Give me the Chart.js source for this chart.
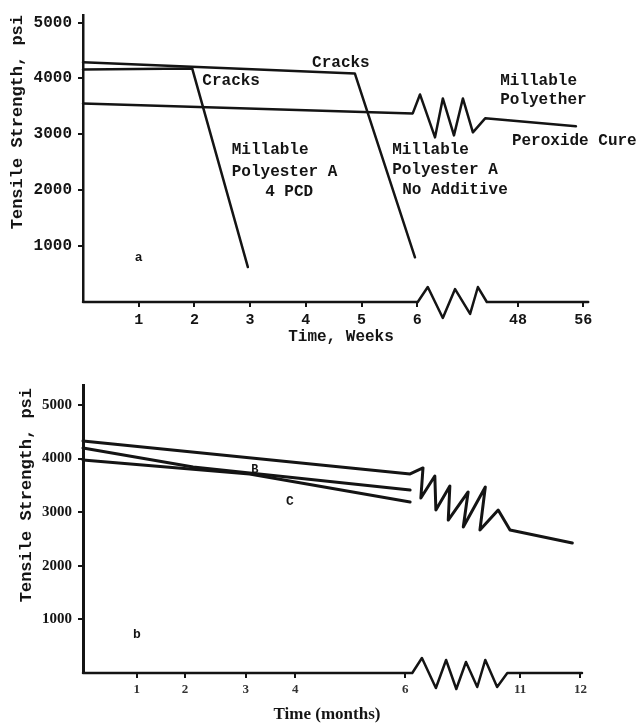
<!doctype html>
<html>
<head>
<meta charset="utf-8">
<title>Tensile Strength vs Time</title>
<script src="https://cdn.jsdelivr.net/npm/chart.js"></script>
<style>
  html, body { margin: 0; padding: 0; background: #fff; }
  #wrap { position: relative; width: 640px; height: 724px; overflow: hidden; }
  canvas { position: absolute; left: 0; }
  #top { top: 0; }
  #bottom { top: 360px; }
</style>
</head>
<body>
<div id="wrap">
  <canvas id="top" width="640" height="355"></canvas>
  <canvas id="bottom" width="640" height="364"></canvas>
</div>
<script>
// x values are positions along the drawn axis (the axis is broken after 6)
// panel a: weeks
const weekTickPos = [1, 2, 3, 4, 5, 6, 7.81, 8.98];
const weekTickLabels = ['1', '2', '3', '4', '5', '6', '48', '56'];
const strengthTicks = [1000, 2000, 3000, 4000, 5000];

const noAdditiveX = [0, 4.88, 5.96];
const noAdditiveY = [4290, 4090, 800];
const pcdX = [0, 1.96, 2.96];
const pcdY = [4160, 4180, 625];
const polyetherX = [0, 5.92, 6.05, 6.32, 6.46, 6.66, 6.82, 7.0, 7.22, 8.85];
const polyetherY = [3550, 3375, 3714, 2946, 3643, 2982, 3643, 3036, 3286, 3143];
const axisAX = [0, 6.01, 6.19, 6.46, 6.68, 6.95, 7.09, 7.25, 9.07];
const axisAY = [0, 0, 268, -286, 232, -214, 268, 0, 0];

// panel b: months
const monthTickPos = [1, 1.9, 3.03, 3.95, 6, 8.14, 9.26];
const monthTickLabels = ['1', '2', '3', '4', '6', '11', '12'];

const lineAX = [0, 6.09, 6.33, 6.29, 6.55, 6.57, 6.83, 6.80, 7.17, 7.08, 7.49, 7.39, 7.73, 7.95, 9.11];
const lineAY = [4328, 3713, 3825, 3265, 3675, 3041, 3489, 2854, 3377, 2724, 3470, 2668, 3041, 2668, 2425];
const lineBX = [0, 2.05, 6.09];
const lineBY = [4198, 3843, 3414];
const lineCX = [0, 3.1, 6.09];
const lineCY = [3974, 3713, 3190];
const axisBX = [0, 6.13, 6.31, 6.57, 6.76, 6.95, 7.13, 7.34, 7.49, 7.71, 7.90, 9.29];
const axisBY = [0, 0, 280, -280, 243, -299, 205, -261, 243, -261, 0, 0];

const BLACK = '#141414';
const MONO = '"Liberation Mono", "DejaVu Sans Mono", monospace';
const SERIF = '"Liberation Serif", "DejaVu Serif", serif';

const notesA = [
  { text: 'Cracks', x: 4.63, y: 4286, align: 'center' },
  { text: 'Cracks', x: 2.66, y: 3964, align: 'center' },
  { text: 'Millable', x: 2.67, y: 2714 },
  { text: 'Polyester A', x: 2.67, y: 2321 },
  { text: '4 PCD', x: 3.27, y: 1964 },
  { text: 'Millable', x: 5.55, y: 2714 },
  { text: 'Polyester A', x: 5.55, y: 2357 },
  { text: 'No Additive', x: 5.73, y: 2000 },
  { text: 'Millable', x: 7.49, y: 3964 },
  { text: 'Polyether', x: 7.49, y: 3607 },
  { text: 'Peroxide Cure', x: 7.70, y: 2875 },
  { text: 'a', x: 0.93, y: 786, font: 'bold 13px ' + MONO }
];
const notesB = [
  { text: 'B', x: 3.2, y: 3787, font: 'bold 12px ' + MONO, align: 'center' },
  { text: 'C', x: 3.85, y: 3190, font: 'bold 13px ' + MONO, align: 'center' },
  { text: 'b', x: 0.93, y: 709, font: 'bold 13px ' + MONO }
];

function pts(xs, ys) {
  return xs.map((x, i) => ({ x, y: ys[i] }));
}

function lineSet(xs, ys, w) {
  return {
    data: pts(xs, ys),
    borderColor: BLACK,
    borderWidth: w,
    pointRadius: 0,
    tension: 0,
    clip: false,
    borderJoinStyle: 'round',
    borderCapStyle: 'round'
  };
}

const notesPlugin = {
  id: 'notes',
  afterDatasetsDraw(chart, args, opts) {
    const { ctx } = chart;
    const sx = chart.scales.x, sy = chart.scales.y;
    ctx.save();
    ctx.fillStyle = BLACK;
    ctx.textBaseline = 'middle';
    for (const n of opts.items || []) {
      ctx.font = n.font || opts.font;
      ctx.textAlign = n.align || 'left';
      ctx.fillText(n.text, sx.getPixelForValue(n.x), sy.getPixelForValue(n.y));
    }
    const xt = opts.xTitle;
    ctx.font = xt.font;
    ctx.textAlign = 'center';
    ctx.fillText(xt.text, xt.cx, xt.cy);
    const yt = opts.yTitle;
    ctx.translate(yt.cx, yt.top);
    ctx.rotate(-Math.PI / 2);
    ctx.font = yt.font;
    ctx.textAlign = 'right';
    ctx.fillText(yt.text, 0, 0);
    ctx.restore();
  }
};

function makeChart(id, cfg) {
  return new Chart(document.getElementById(id), {
    type: 'line',
    data: { datasets: cfg.datasets },
    options: {
      responsive: false,
      animation: false,
      layout: { padding: { top: cfg.padTop, left: 0, right: 0, bottom: 0 } },
      plugins: {
        legend: { display: false },
        tooltip: { enabled: false },
        notes: cfg.notes
      },
      scales: {
        x: {
          type: 'linear',
          min: 0,
          max: cfg.xMax,
          border: { display: false },
          grid: { drawOnChartArea: false, drawTicks: true, tickLength: 5, color: BLACK, lineWidth: 2 },
          afterBuildTicks: (axis) => { axis.ticks = cfg.xTickPos.map(v => ({ value: v })); },
          afterFit: (axis) => { axis.height = cfg.xAxisHeight; },
          ticks: {
            autoSkip: false,
            maxRotation: 0,
            padding: 4,
            color: cfg.xTickColor,
            font: cfg.xTickFont,
            callback: (v, i) => cfg.xTickLabels[i]
          }
        },
        y: {
          type: 'linear',
          min: 0,
          max: cfg.yMax,
          border: { display: true, color: BLACK, width: cfg.axisWidth },
          grid: { drawOnChartArea: false, drawTicks: true, tickLength: 5, color: BLACK, lineWidth: 2 },
          afterBuildTicks: (axis) => { axis.ticks = strengthTicks.map(v => ({ value: v })); },
          afterFit: (axis) => { axis.width = 83; },
          ticks: {
            padding: 6,
            color: BLACK,
            font: cfg.yTickFont,
            callback: (v) => String(v)
          }
        }
      }
    },
    plugins: [notesPlugin]
  });
}

makeChart('top', {
  padTop: 15,
  xMax: 10,
  yMax: 5125,
  xAxisHeight: 53,
  axisWidth: 2.5,
  xTickPos: weekTickPos,
  xTickLabels: weekTickLabels,
  xTickColor: BLACK,
  xTickFont: { family: MONO, size: 15, weight: 'bold' },
  yTickFont: { family: MONO, size: 16, weight: 'bold' },
  datasets: [
    lineSet(axisAX, axisAY, 2.5),
    lineSet(noAdditiveX, noAdditiveY, 2.5),
    lineSet(pcdX, pcdY, 2.5),
    lineSet(polyetherX, polyetherY, 2.5)
  ],
  notes: {
    font: 'bold 16px ' + MONO,
    items: notesA,
    xTitle: { text: 'Time, Weeks', cx: 341, cy: 337, font: 'bold 16px ' + MONO },
    yTitle: { text: 'Tensile Strength, psi', cx: 18, top: 15, font: 'bold 17px ' + MONO }
  }
});

makeChart('bottom', {
  padTop: 25,
  xMax: 10.37,
  yMax: 5373,
  xAxisHeight: 51,
  axisWidth: 3,
  xTickPos: monthTickPos,
  xTickLabels: monthTickLabels,
  xTickColor: '#333',
  xTickFont: { family: SERIF, size: 13, weight: 'bold' },
  yTickFont: { family: SERIF, size: 15, weight: 'bold' },
  datasets: [
    lineSet(axisBX, axisBY, 2.5),
    lineSet(lineAX, lineAY, 3),
    lineSet(lineBX, lineBY, 3),
    lineSet(lineCX, lineCY, 3)
  ],
  notes: {
    font: 'bold 16px ' + MONO,
    items: notesB,
    xTitle: { text: 'Time (months)', cx: 327, cy: 355, font: 'bold 17px ' + SERIF },
    yTitle: { text: 'Tensile Strength, psi', cx: 27, top: 28, font: 'bold 17px ' + MONO }
  }
});
</script>
</body>
</html>
